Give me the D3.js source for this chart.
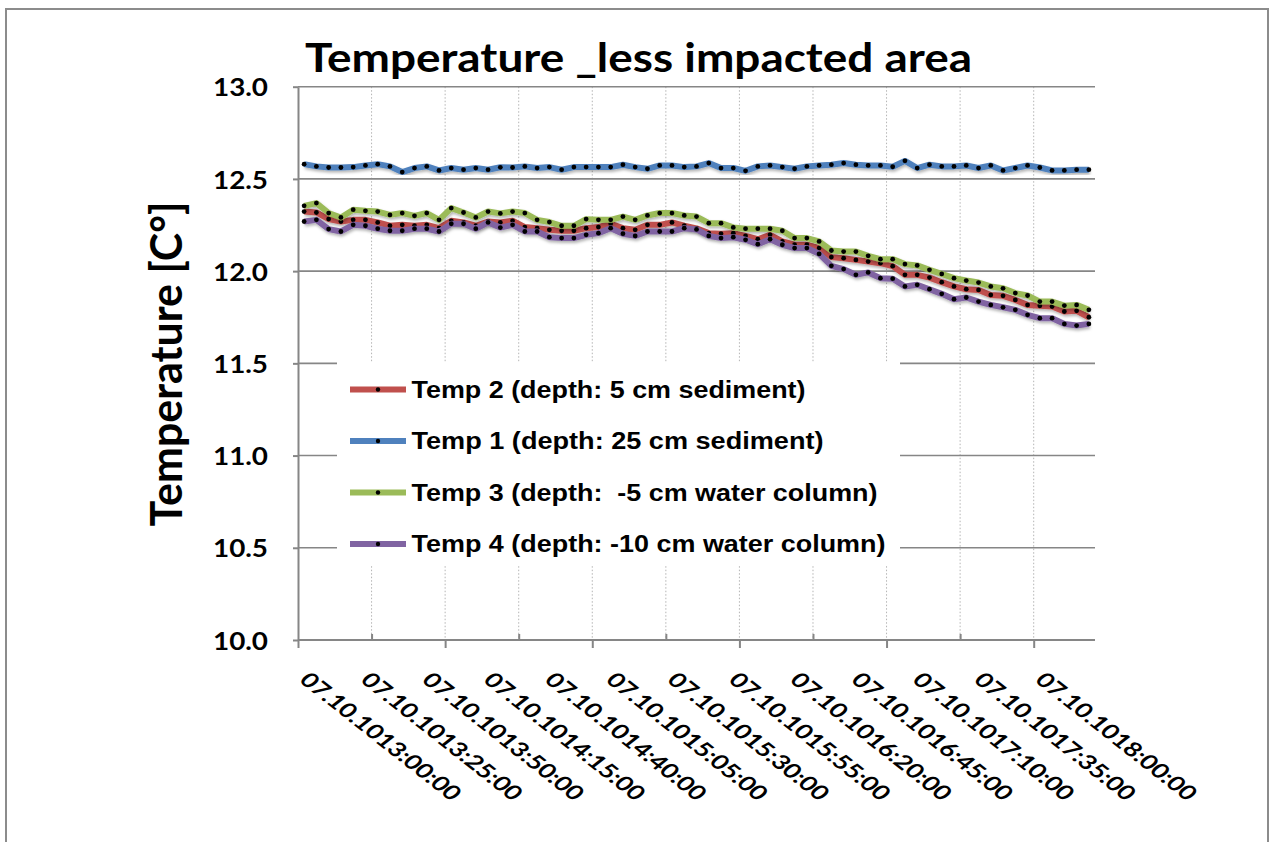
<!DOCTYPE html>
<html>
<head>
<meta charset="UTF-8">
<title>Temperature _less impacted area</title>
<style>
  body { margin: 0; background: #fff; }
  svg text { font-weight: bold; fill: #000; }
  .title, .ylab, .ytitle, .xlab { font-family: Lato, "Open Sans", sans-serif; }
  .legend text { font-family: "Liberation Sans", Arial, sans-serif; white-space: pre; }
  .grid line { stroke: #868686; stroke-width: 1.6px; }
  .vgrid line { stroke: #b4b4b4; stroke-width: 1px; stroke-dasharray: 1.5,2; }
  .axis path, .axis line { stroke: #868686; stroke-width: 2px; }
</style>
<script src="https://cdnjs.cloudflare.com/ajax/libs/d3/7.8.5/d3.min.js"></script>
</head>
<body>
<div id="chart"></div>
<script>
// 5 minute readings, 07.10.10 13:00 .. 18:20
var startMin = 13 * 60;
var times = d3.range(65).map(function(i) {
  var m = startMin + i * 5;
  return "07.10.10" + d3.format("02")(Math.floor(m / 60)) + ":" + d3.format("02")(m % 60) + ":00";
});
var labelEvery = 5;

var seriesNames = [
  "Temp 2 (depth: 5 cm sediment)",
  "Temp 1 (depth: 25 cm sediment)",
  "Temp 3 (depth:  -5 cm water column)",
  "Temp 4 (depth: -10 cm water column)"
];
var seriesColors = ["#C0504D", "#4F81BD", "#9BBB59", "#8064A2"];

var temp2 = [12.323, 12.318, 12.282, 12.269, 12.278, 12.278, 12.264, 12.246, 12.251, 12.246,
  12.251, 12.233, 12.273, 12.264, 12.246, 12.269, 12.264, 12.273, 12.239, 12.233,
  12.224, 12.219, 12.219, 12.233, 12.239, 12.257, 12.233, 12.224, 12.251, 12.251,
  12.264, 12.246, 12.232, 12.206, 12.203, 12.206, 12.191, 12.173, 12.197, 12.161,
  12.143, 12.143, 12.125, 12.076, 12.070, 12.061, 12.052, 12.043, 12.027, 11.980,
  11.980, 11.965, 11.940, 11.917, 11.902, 11.898, 11.871, 11.866, 11.844, 11.817,
  11.812, 11.808, 11.781, 11.785, 11.750];

var temp1 = [12.580, 12.568, 12.562, 12.562, 12.564, 12.573, 12.580, 12.568, 12.537, 12.559,
  12.568, 12.546, 12.559, 12.550, 12.559, 12.550, 12.563, 12.562, 12.568, 12.559,
  12.564, 12.550, 12.564, 12.564, 12.564, 12.564, 12.577, 12.564, 12.555, 12.573,
  12.573, 12.564, 12.568, 12.586, 12.559, 12.559, 12.544, 12.568, 12.573, 12.564,
  12.555, 12.568, 12.573, 12.577, 12.586, 12.577, 12.573, 12.573, 12.566, 12.598,
  12.559, 12.577, 12.568, 12.568, 12.573, 12.559, 12.573, 12.546, 12.559, 12.573,
  12.562, 12.546, 12.546, 12.550, 12.550];

var temp3 = [12.354, 12.369, 12.315, 12.291, 12.333, 12.327, 12.323, 12.305, 12.315, 12.300,
  12.315, 12.278, 12.342, 12.318, 12.291, 12.323, 12.313, 12.323, 12.315, 12.278,
  12.266, 12.246, 12.246, 12.282, 12.278, 12.278, 12.296, 12.278, 12.302, 12.315,
  12.315, 12.302, 12.296, 12.260, 12.260, 12.237, 12.230, 12.230, 12.230, 12.219,
  12.179, 12.179, 12.161, 12.112, 12.106, 12.106, 12.083, 12.065, 12.065, 12.038,
  12.031, 12.007, 11.985, 11.962, 11.949, 11.938, 11.917, 11.907, 11.881, 11.868,
  11.835, 11.835, 11.813, 11.817, 11.790];

var temp4 = [12.269, 12.278, 12.228, 12.215, 12.251, 12.246, 12.230, 12.219, 12.219, 12.230,
  12.230, 12.215, 12.257, 12.257, 12.230, 12.264, 12.236, 12.251, 12.215, 12.215,
  12.184, 12.179, 12.179, 12.197, 12.206, 12.233, 12.203, 12.191, 12.215, 12.215,
  12.215, 12.233, 12.226, 12.191, 12.179, 12.184, 12.170, 12.146, 12.173, 12.143,
  12.125, 12.125, 12.094, 12.029, 12.011, 11.980, 11.993, 11.962, 11.959, 11.917,
  11.926, 11.902, 11.877, 11.848, 11.857, 11.835, 11.817, 11.804, 11.790, 11.763,
  11.745, 11.745, 11.714, 11.705, 11.714];

var yTicks = [10.0, 10.5, 11.0, 11.5, 12.0, 12.5, 13.0];

var series = [temp2, temp1, temp3, temp4].map(function(v, k) {
  return {name: seriesNames[k], color: seriesColors[k], values: v};
});

var width = 1274, height = 842;
var plot = {left: 298, right: 1095, top: 86.7, bottom: 640};

var svg = d3.select("#chart").append("svg")
    .attr("width", width)
    .attr("height", height);

var defs = svg.append("defs");
defs.append("filter").attr("id", "shadow")
    .attr("x", "-5%").attr("y", "-20%").attr("width", "110%").attr("height", "140%")
  .append("feDropShadow")
    .attr("dx", 1).attr("dy", 2).attr("stdDeviation", 1.4)
    .attr("flood-color", "#000").attr("flood-opacity", 0.3);

// chart border
svg.append("rect")
    .attr("x", 6).attr("y", 9)
    .attr("width", 1262).attr("height", 850)
    .attr("fill", "none").attr("stroke", "#8c8c8c").attr("stroke-width", 2);

var x = d3.scaleBand().domain(d3.range(times.length)).range([plot.left, plot.right]);
var xEdge = d3.scaleLinear().domain([0, times.length]).range([plot.left, plot.right]);
var y = d3.scaleLinear().domain([10, 13]).range([plot.bottom, plot.top]);

// vertical dotted gridlines every 6 categories
svg.append("g").attr("class", "vgrid")
    .selectAll("line")
    .data(d3.range(6, times.length, 6))
  .enter().append("line")
    .attr("x1", function(d) { return xEdge(d); })
    .attr("x2", function(d) { return xEdge(d); })
    .attr("y1", plot.top)
    .attr("y2", plot.bottom);

// horizontal gridlines
svg.append("g").attr("class", "grid")
    .selectAll("line")
    .data(yTicks.slice(1))
  .enter().append("line")
    .attr("x1", plot.left)
    .attr("x2", plot.right)
    .attr("y1", function(d) { return y(d); })
    .attr("y2", function(d) { return y(d); });

// y axis
var yAxis = svg.append("g")
    .attr("class", "axis")
    .attr("transform", "translate(" + plot.left + ",0)")
    .call(d3.axisLeft(y).tickValues(yTicks).tickSize(5).tickSizeOuter(0).tickFormat(d3.format(".1f")));
yAxis.selectAll("text")
    .attr("class", "ylab")
    .attr("x", -30)
    .attr("y", 9.2)
    .attr("dy", 0)
    .style("font-size", "25.5px")
    .attr("textLength", 55)
    .attr("lengthAdjust", "spacingAndGlyphs");

// x axis: major ticks down, minor ticks up
var xAxis = svg.append("g")
    .attr("class", "axis")
    .attr("transform", "translate(0," + plot.bottom + ")")
    .call(d3.axisBottom(xEdge).tickValues(d3.range(0, times.length, 12)).tickSize(8).tickSizeOuter(0).tickFormat(""));
xAxis.select(".domain").attr("d", "M" + plot.left + ",0H" + plot.right);
svg.append("g")
    .attr("class", "axis")
    .attr("transform", "translate(0," + plot.bottom + ")")
    .call(d3.axisBottom(xEdge).tickValues(d3.range(6, times.length, 12)).tickSize(-6).tickSizeOuter(0).tickFormat(""))
    .select(".domain").remove();

// x tick labels
svg.append("g")
    .selectAll("text")
    .data(d3.range(0, times.length, labelEvery))
  .enter().append("text")
    .attr("class", "xlab")
    .attr("transform", function(d) {
      return "translate(" + xEdge(d) + ",681) scale(1.265,1) rotate(45)";
    })
    .style("font-size", "20px")
    .attr("textLength", 171)
    .attr("lengthAdjust", "spacingAndGlyphs")
    .text(function(d) { return times[d]; });

// series lines
var line = d3.line()
    .x(function(d, i) { return x(i) + x.bandwidth() / 2; })
    .y(function(d) { return y(d); });

var sg = svg.append("g").selectAll(".series")
    .data(series)
  .enter().append("g")
    .attr("class", "series");

sg.append("path")
    .attr("d", function(d) { return line(d.values); })
    .attr("fill", "none")
    .attr("stroke", function(d) { return d.color; })
    .attr("stroke-width", 6)
    .attr("stroke-linejoin", "round")
    .attr("filter", "url(#shadow)");

sg.selectAll("circle")
    .data(function(d) { return d.values; })
  .enter().append("circle")
    .attr("cx", function(d, i) { return x(i) + x.bandwidth() / 2; })
    .attr("cy", function(d) { return y(d); })
    .attr("r", 2.4)
    .attr("fill", "#000");

// legend
var legendWidths = [394, 412, 466, 474];
var legend = svg.append("g").attr("class", "legend");
legend.append("rect")
    .attr("x", 337).attr("y", 362)
    .attr("width", 563).attr("height", 204)
    .attr("fill", "#fff");
var li = legend.selectAll(".item")
    .data(series)
  .enter().append("g")
    .attr("class", "item")
    .attr("transform", function(d, i) { return "translate(0," + (389.5 + i * 51.5) + ")"; });
li.append("line")
    .attr("x1", 350).attr("x2", 406)
    .attr("stroke", function(d) { return d.color; })
    .attr("stroke-width", 6);
li.append("circle")
    .attr("cx", 378).attr("r", 2.2).attr("fill", "#000");
li.append("text")
    .attr("x", 411.5)
    .attr("y", 8.3)
    .style("font-size", "23px")
    .attr("textLength", function(d, i) { return legendWidths[i]; })
    .attr("lengthAdjust", "spacingAndGlyphs")
    .text(function(d) { return d.name; });

// y axis title
svg.append("text")
    .attr("class", "ytitle")
    .attr("transform", "translate(182,364) scale(1.265,1) rotate(-90)")
    .attr("text-anchor", "middle")
    .style("font-size", "35px")
    .attr("textLength", 325)
    .attr("lengthAdjust", "spacingAndGlyphs")
    .text("Temperature [C°]");

// chart title
svg.append("text")
    .attr("class", "title")
    .attr("x", 638.5)
    .attr("y", 72)
    .attr("text-anchor", "middle")
    .style("font-size", "40px")
    .attr("textLength", 667)
    .attr("lengthAdjust", "spacingAndGlyphs")
    .text("Temperature _less impacted area");
</script>
</body>
</html>
